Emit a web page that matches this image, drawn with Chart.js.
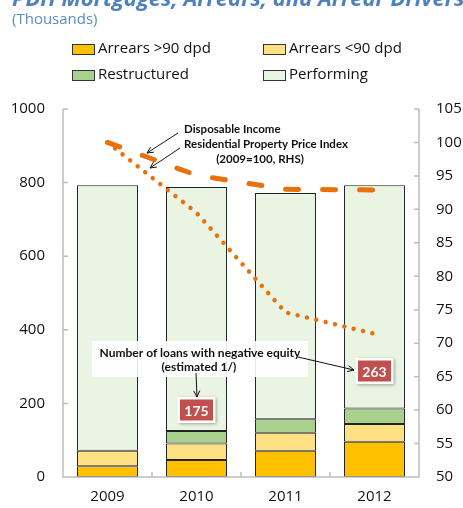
<!DOCTYPE html>
<html>
<head>
<meta charset="utf-8">
<script src="https://cdn.jsdelivr.net/npm/chart.js@4.4.1/dist/chart.umd.min.js"></script>
<style>
  html, body { margin: 0; padding: 0; background: #fff; overflow: hidden; }
</style>
</head>
<body>
<canvas id="chart" width="463" height="508"></canvas>
<script>
// values
const years = ['2009', '2010', '2011', '2012'];
const arrearsOver90 = [29, 46, 71, 96];
const arrearsUnder90 = [42, 45, 49, 48];
const restructured = [0, 34, 37, 42];
const performing = [722, 663, 615, 607];
const disposableIncome = [100, 95.1, 93.0, 92.9];
const propertyPrices = [100, 89.5, 74.6, 71.4];
const negativeEquity = [null, 175, null, 263];

const FONT = '"Open Sans", Lato, sans-serif';
const NOTE_FONT = 'Lato, "Open Sans", sans-serif';
const AXIS_GREY = '#bdbdbd';
const ORANGE = '#e8710a';

const fixed = (w, h) => (scale) => {
  if (w != null) scale.width = w;
  if (h != null) scale.height = h;
};

function arrow(ctx, x1, y1, x2, y2) {
  const a = Math.atan2(y2 - y1, x2 - x1);
  ctx.beginPath();
  ctx.moveTo(x1, y1);
  ctx.lineTo(x2, y2);
  ctx.moveTo(x2 - 7 * Math.cos(a - 0.45), y2 - 7 * Math.sin(a - 0.45));
  ctx.lineTo(x2, y2);
  ctx.lineTo(x2 - 7 * Math.cos(a + 0.45), y2 - 7 * Math.sin(a + 0.45));
  ctx.stroke();
}

const decor = {
  id: 'decor',
  afterDatasetsDraw(chart) {
    const { ctx, chartArea: a, scales } = chart;
    ctx.save();

    // axes with inside tick marks
    ctx.strokeStyle = AXIS_GREY;
    ctx.lineWidth = 1.5;
    ctx.beginPath();
    ctx.moveTo(a.left, a.top); ctx.lineTo(a.left, a.bottom); ctx.lineTo(a.right, a.bottom); ctx.lineTo(a.right, a.top);
    scales.y.ticks.forEach(t => {
      const y = scales.y.getPixelForValue(t.value);
      ctx.moveTo(a.left, y); ctx.lineTo(a.left + 5, y);
    });
    scales.y1.ticks.forEach(t => {
      const y = scales.y1.getPixelForValue(t.value);
      ctx.moveTo(a.right, y); ctx.lineTo(a.right - 5, y);
    });
    for (let i = 1; i < years.length; i++) {
      const x = (scales.x.getPixelForValue(i - 1) + scales.x.getPixelForValue(i)) / 2;
      ctx.moveTo(x, a.bottom); ctx.lineTo(x, a.bottom - 5);
    }
    ctx.stroke();

    // index annotation
    ctx.fillStyle = '#111';
    ctx.font = 'bold 11.5px ' + NOTE_FONT;
    ctx.textBaseline = 'middle';
    ctx.textAlign = 'left';
    ctx.fillText('Disposable Income', 184, 129);
    ctx.fillText('Residential Property Price Index', 184, 144);
    ctx.textAlign = 'center';
    ctx.fillText('(2009=100, RHS)', 260, 159);
    ctx.strokeStyle = '#111';
    ctx.lineWidth = 1;
    arrow(ctx, 178, 133, 147, 153);
    arrow(ctx, 180, 148, 150, 168);

    // negative equity box
    ctx.fillStyle = 'rgba(255,255,255,0.9)';
    ctx.fillRect(92, 341, 216, 36);
    ctx.fillStyle = '#111';
    ctx.font = 'bold 12px ' + NOTE_FONT;
    ctx.fillText('Number of loans with negative equity', 200, 353);
    ctx.fillText('(estimated 1/)', 199, 367);
    arrow(ctx, 196, 373, 197, 397);
    arrow(ctx, 298, 357, 354, 370);

    // red value labels
    const labelY = [null, 410, null, 371];
    negativeEquity.forEach((v, i) => {
      if (v == null) return;
      const x = scales.x.getPixelForValue(i);
      const y = labelY[i];
      ctx.save();
      ctx.shadowColor = 'rgba(0,0,0,0.35)';
      ctx.shadowBlur = 3;
      ctx.shadowOffsetX = 1;
      ctx.shadowOffsetY = 1;
      ctx.fillStyle = '#fff';
      ctx.fillRect(x - 19, y - 13, 38, 26);
      ctx.restore();
      ctx.fillStyle = '#c0504d';
      ctx.fillRect(x - 16.5, y - 10.5, 33, 21);
      ctx.fillStyle = '#fff';
      ctx.font = 'bold 14px ' + NOTE_FONT;
      ctx.fillText(String(v), x, y + 1);
    });

    // legend
    ctx.font = '15px ' + FONT;
    ctx.textAlign = 'left';
    const cols = [72, 263], rows = [49, 75];
    chart.data.datasets.filter(d => d.type === 'bar').forEach((d, i) => {
      const x = cols[i % 2], y = rows[Math.floor(i / 2)];
      ctx.fillStyle = d.backgroundColor;
      ctx.fillRect(x, y - 5, 23, 10);
      ctx.strokeStyle = '#333';
      ctx.lineWidth = 1;
      ctx.strokeRect(x + 0.5, y - 5 + 0.5, 22, 10);
      ctx.fillStyle = '#111';
      ctx.fillText(d.label, x + 26, y);
    });

    // titles
    ctx.fillStyle = '#4f81bd';
    ctx.font = 'italic bold 22px ' + FONT;
    ctx.textBaseline = 'alphabetic';
    ctx.fillText('PDH Mortgages, Arrears, and Arrear Drivers', 12, 6);
    ctx.fillStyle = '#5b8cc2';
    ctx.font = '15px ' + FONT;
    ctx.fillText('(Thousands)', 12, 24);

    ctx.restore();
  }
};

const bar = (label, data, color) => ({
  type: 'bar', label, data, backgroundColor: color,
  borderColor: '#222', borderWidth: 1, borderSkipped: false,
  yAxisID: 'y', order: 1,
  categoryPercentage: 1, barPercentage: 0.685
});

const line = (label, data, dash, width) => ({
  type: 'line', label, data, yAxisID: 'y1', order: 0,
  borderColor: ORANGE, borderWidth: width, borderDash: dash,
  borderCapStyle: 'round', pointRadius: 0, tension: 0, fill: false
});

const tickFont = { family: FONT, size: 15 };

new Chart(document.getElementById('chart'), {
  data: {
    labels: years,
    datasets: [
      bar('Arrears >90 dpd', arrearsOver90, '#ffc000'),
      bar('Arrears <90 dpd', arrearsUnder90, '#ffe083'),
      bar('Restructured', restructured, '#a9d18e'),
      bar('Performing', performing, '#eaf4e3'),
      line('Disposable Income', disposableIncome, [13, 24], 5),
      line('Residential Property Price Index', propertyPrices, [0.01, 9.6], 4.5)
    ]
  },
  options: {
    responsive: false,
    animation: false,
    layout: { padding: { top: 109, left: 0, right: 0, bottom: 0 } },
    plugins: { legend: { display: false }, tooltip: { enabled: false } },
    scales: {
      x: {
        stacked: true,
        grid: { display: false, drawTicks: false },
        border: { display: false },
        ticks: { color: '#111', font: tickFont, padding: 11 },
        afterFit: fixed(null, 31)
      },
      y: {
        position: 'left', stacked: true, min: 0, max: 1000,
        grid: { display: false, drawTicks: false },
        border: { display: false },
        ticks: { stepSize: 200, color: '#111', font: tickFont, padding: 18, callback: v => String(v) },
        afterFit: fixed(63, null)
      },
      y1: {
        position: 'right', min: 50, max: 105,
        grid: { display: false, drawTicks: false },
        border: { display: false },
        ticks: { stepSize: 5, color: '#111', font: tickFont, padding: 17, callback: v => String(v) },
        afterFit: fixed(44, null)
      }
    }
  },
  plugins: [decor]
});
</script>
</body>
</html>
